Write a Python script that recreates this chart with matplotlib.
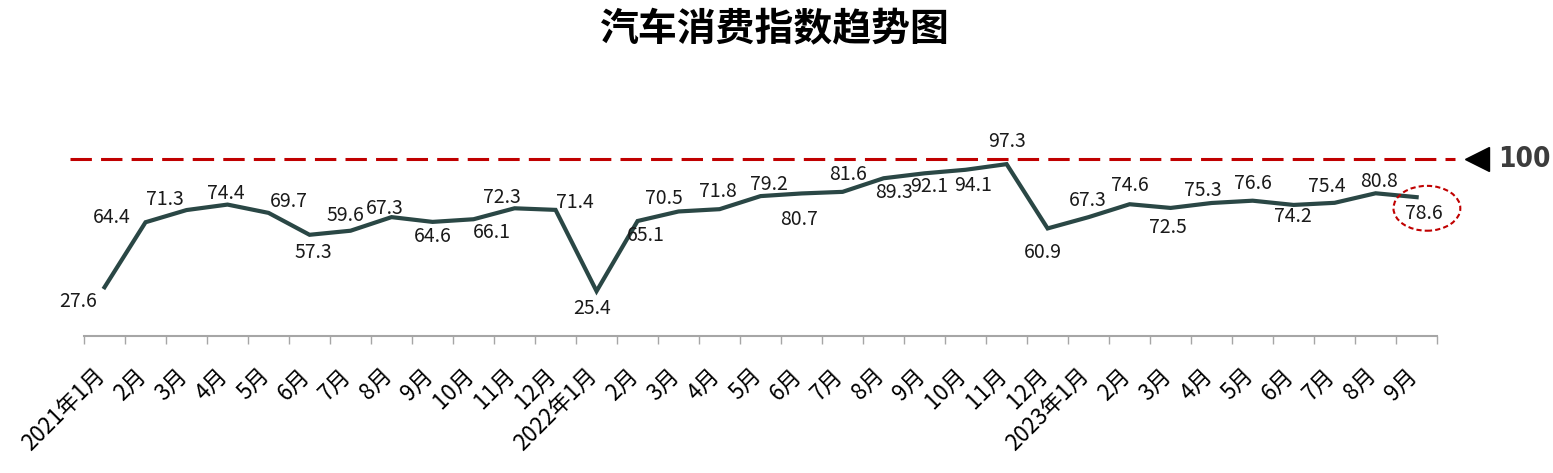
import numpy as np
import matplotlib
matplotlib.use('Agg')
import matplotlib.pyplot as plt
from matplotlib.patches import Ellipse
from matplotlib.transforms import ScaledTranslation

plt.rcParams['font.family'] = ['Noto Sans CJK SC', 'DejaVu Sans']

# ── data ──────────────────────────────────────────────────────────────────────
MONTHS = ['2021年1月', '2月', '3月', '4月', '5月', '6月', '7月', '8月', '9月',
          '10月', '11月', '12月',
          '2022年1月', '2月', '3月', '4月', '5月', '6月', '7月', '8月', '9月',
          '10月', '11月', '12月',
          '2023年1月', '2月', '3月', '4月', '5月', '6月', '7月', '8月', '9月']
INDEX = [27.6, 64.4, 71.3, 74.4, 69.7, 57.3, 59.6, 67.3, 64.6, 66.1, 72.3, 71.4,
         25.4, 65.1, 70.5, 71.8, 79.2, 80.7, 81.6, 89.3, 92.1, 94.1, 97.3, 60.9,
         67.3, 74.6, 72.5, 75.3, 76.6, 74.2, 75.4, 80.8, 78.6]
REF_VALUE = 100
TITLE = '汽车消费指数趋势图'

# label offsets (pixels, dx right / dy up) - placement only
LABEL_OFFSETS = [(-26, -14), (-34, 5), (-22, 11), (-2, 11), (20, 11), (4, -18),
                 (-5, 15), (-7, 9), (0, -15), (18, -13), (-13, 11), (19, 7),
                 (-4, -17), (8, -14), (-15, 13), (-2, 18), (8, 12), (-3, -26),
                 (5, 17), (10, -14), (5, -13), (7, -16), (0, 23), (-5, -24),
                 (-1, 17), (0, 19), (-3, -20), (-9, 12), (0, 17), (-1, -12),
                 (-8, 16), (3, 12), (7, -16)]

LINE_COLOR = '#2A4745'
RED = '#C00000'
AXIS_GRAY = '#A6A6A6'

x = np.arange(len(INDEX))

fig = plt.figure(figsize=(15.53, 4.73), dpi=100)
ax = fig.add_axes([0.0541, 0.2896, 0.8713, 0.4482])

ax.plot(x, INDEX, color=LINE_COLOR, lw=3.0, solid_joinstyle='miter', zorder=3)

# reference line at 100, sticking out past the axis on both sides
ax.axhline(REF_VALUE, xmin=-0.0103, xmax=1.0133, color=RED, lw=2.2,
           dashes=(7, 3), clip_on=False, zorder=2)
tr = ax.get_yaxis_transform()
ax.plot([1.0296], [REF_VALUE], marker='<', ms=17, color='black',
        transform=tr, clip_on=False)
ax.text(1.0642, REF_VALUE, str(REF_VALUE), transform=tr, ha='center', va='center',
        fontsize=20, fontweight='bold', fontstretch='condensed', color='#3C3C3C',
        clip_on=False, family='DejaVu Sans')

# data labels
for xi, v, (dx, dy) in zip(x, INDEX, LABEL_OFFSETS):
    ax.annotate(f'{v:.1f}', (xi, v), xytext=(dx * 0.72, dy * 0.72),
                textcoords='offset points', ha='center', va='center',
                fontsize=14, color='#1A1A1A', zorder=4)

# circle the latest value
ax.add_patch(Ellipse((x[-1] + 0.25, INDEX[-1] - 6.3), 1.63, 25.4, fill=False,
                     ec=RED, lw=1.5, ls=(0, (2.5, 1.5)), clip_on=False, zorder=4))

ax.set_xlim(-0.5, len(INDEX) - 0.5)
ax.set_ylim(0, 120)

# category-boundary ticks, labels at centres
ax.set_xticks(np.arange(len(INDEX) + 1) - 0.5)
ax.set_xticklabels([])
ax.set_xticks(x, MONTHS, minor=True)
ax.tick_params(axis='x', which='major', length=6, width=1, color=AXIS_GRAY)
ax.tick_params(axis='x', which='minor', length=0, pad=20, labelsize=16)
for lbl in ax.get_xticklabels(minor=True):
    lbl.set_rotation(45)
    lbl.set_ha('right')
    lbl.set_va('top')
    lbl.set_transform(lbl.get_transform() + ScaledTranslation(0.05, 0, fig.dpi_scale_trans))

ax.set_yticks([])
for side in ['left', 'right', 'top']:
    ax.spines[side].set_visible(False)
ax.spines['bottom'].set_color(AXIS_GRAY)
ax.spines['bottom'].set_linewidth(1.5)

fig.text(0.499, 0.937, TITLE, ha='center', va='center', fontsize=28,
         fontweight='heavy')

fig.savefig('out.png', dpi=100)
